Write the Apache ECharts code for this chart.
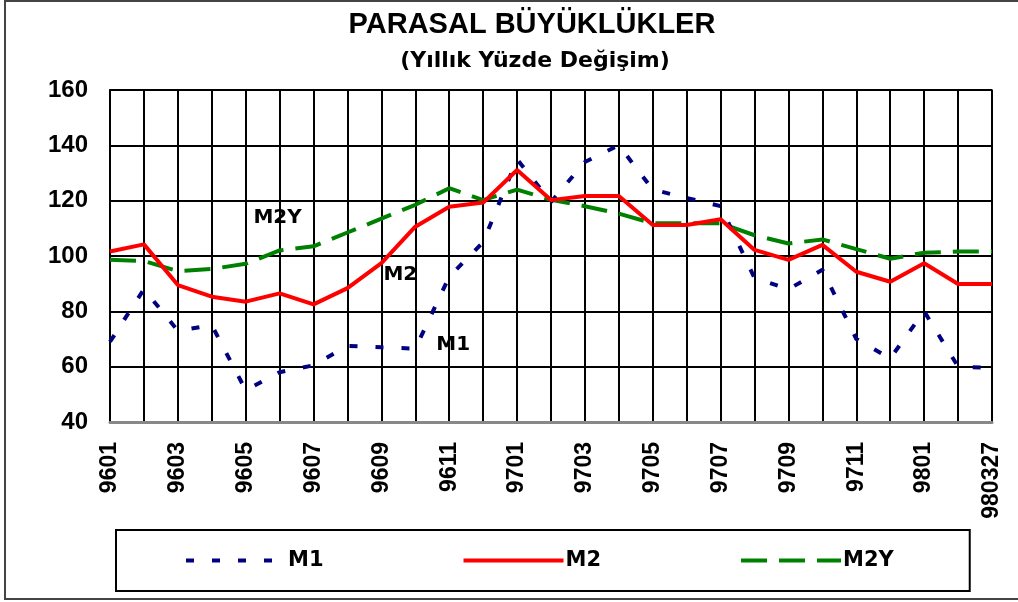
<!DOCTYPE html>
<html>
<head>
<meta charset="utf-8">
<script src="https://cdn.jsdelivr.net/npm/echarts@6/dist/echarts.min.js"></script>
<style>
  html, body { margin: 0; padding: 0; background: #fff; }
  #main { width: 1018px; height: 602px; }
</style>
</head>
<body>
<div id="main"></div>
<script>
// aylar (son nokta 27 Mart 1998)
var aylar = ['9601', '9602', '9603', '9604', '9605', '9606', '9607', '9608', '9609', '9610', '9611', '9612',
             '9701', '9702', '9703', '9704', '9705', '9706', '9707', '9708', '9709', '9710', '9711', '9712',
             '9801', '9802', '980327'];
var m1  = [69, 88, 73, 75, 51.5, 58, 60.5, 67.5, 67, 66.5, 92.5, 105, 135, 119.5, 134, 140, 124, 121, 118, 92, 88, 95, 70, 63, 80, 60, 59.5];
var m2  = [101.6, 104.2, 89.5, 85.3, 83.5, 86.5, 82.5, 88.4, 97.4, 110.6, 117.8, 119.3, 131.1, 120.2, 121.7, 121.7, 111.2, 111.2, 113.3, 102.2, 98.6, 104, 94.3, 90.7, 97.4, 89.9, 89.9];
var m2y = [98.6, 98.2, 94.5, 95.3, 97.2, 102, 103.5, 108.5, 113.5, 118.5, 124.5, 120.2, 124, 120.3, 118, 115.3, 111.8, 111.8, 111.8, 107.5, 104.5, 106, 102.5, 99, 101.2, 101.6, 101.6];
// grafik içi etiketler: [ay, değer]
var m1Etiket  = ['9611', 67.8];
var m2Etiket  = ['9610', 93.1];
var m2yEtiket = ['9606', 113.7];

var font = 'Liberation Sans, Arial, sans-serif';
var genis = 'DejaVu Sans, Verdana, sans-serif';

function etiket(yer, ad, kaydir) {
    return {
        symbol: 'circle',
        symbolSize: 0,
        data: [{
            coord: yer,
            label: {
                show: true,
                formatter: ad,
                position: 'inside',
                offset: kaydir,
                color: '#000',
                fontFamily: genis,
                fontWeight: 'bold',
                fontSize: 20
            }
        }]
    };
}

var myChart = echarts.init(document.getElementById('main'));

myChart.setOption({
    backgroundColor: '#fff',
    animation: false,
    title: [{
        text: 'PARASAL BÜYÜKLÜKLER',
        left: 527,
        top: 5,
        textAlign: 'center',
        textStyle: { fontFamily: font, fontSize: 29, fontWeight: 'bold', color: '#000' }
    }, {
        text: '(Yıllık Yüzde Değişim)',
        left: 530,
        top: 45,
        textAlign: 'center',
        textStyle: { fontFamily: genis, fontSize: 22, fontWeight: 'bold', color: '#000' }
    }],
    graphic: [{
        type: 'rect',
        shape: { x: 5, y: 1, width: 1030, height: 598 },
        style: { fill: 'none', stroke: '#444', lineWidth: 2 },
        silent: true
    }],
    legend: {
        left: 116,
        top: 530,
        padding: [20, 76, 20, 68],
        borderColor: '#000',
        borderWidth: 2,
        itemWidth: 100,
        itemHeight: 20,
        itemGap: 138,
        itemStyle: { opacity: 0 },
        lineStyle: { width: 4 },
        textStyle: { fontFamily: genis, fontSize: 21, fontWeight: 'bold', color: '#000', padding: [0, 0, 0, -3] },
        data: ['M1', 'M2', 'M2Y']
    },
    grid: {
        left: 110,
        right: 26,
        top: 90,
        bottom: 180,
        show: true,
        borderColor: '#888',
        borderWidth: 2
    },
    xAxis: {
        type: 'category',
        data: aylar,
        boundaryGap: false,
        axisLine: { lineStyle: { color: '#888', width: 3 } },
        axisTick: { show: false },
        axisLabel: {
            interval: 1,
            rotate: 90,
            margin: 20,
            color: '#000',
            fontFamily: font,
            fontWeight: 'bold',
            fontSize: 23
        },
        splitLine: { show: true, interval: 0, lineStyle: { color: '#000', width: 2 } }
    },
    yAxis: {
        type: 'value',
        min: 40,
        max: 160,
        interval: 20,
        axisLine: { show: true, lineStyle: { color: '#000', width: 2 } },
        axisTick: { show: false },
        axisLabel: {
            margin: 22,
            color: '#000',
            fontFamily: font,
            fontWeight: 'bold',
            fontSize: 24
        },
        splitLine: { show: true, lineStyle: { color: '#000', width: 2 } }
    },
    series: [{
        name: 'M1',
        type: 'line',
        data: m1,
        symbol: 'none',
        color: '#000080',
        lineStyle: { color: '#000080', width: 4, type: [8, 18] },
        markPoint: etiket(m1Etiket, 'M1', [4, 0]),
        z: 3
    }, {
        name: 'M2',
        type: 'line',
        data: m2,
        symbol: 'none',
        color: '#ff0000',
        lineStyle: { color: '#ff0000', width: 4 },
        markPoint: etiket(m2Etiket, 'M2', [-15, 0]),
        z: 4
    }, {
        name: 'M2Y',
        type: 'line',
        data: m2y,
        symbol: 'none',
        color: '#008000',
        lineStyle: { color: '#008000', width: 4, type: [26, 12] },
        markPoint: etiket(m2yEtiket, 'M2Y', [-2, 0]),
        z: 2
    }]
});
</script>
</body>
</html>
